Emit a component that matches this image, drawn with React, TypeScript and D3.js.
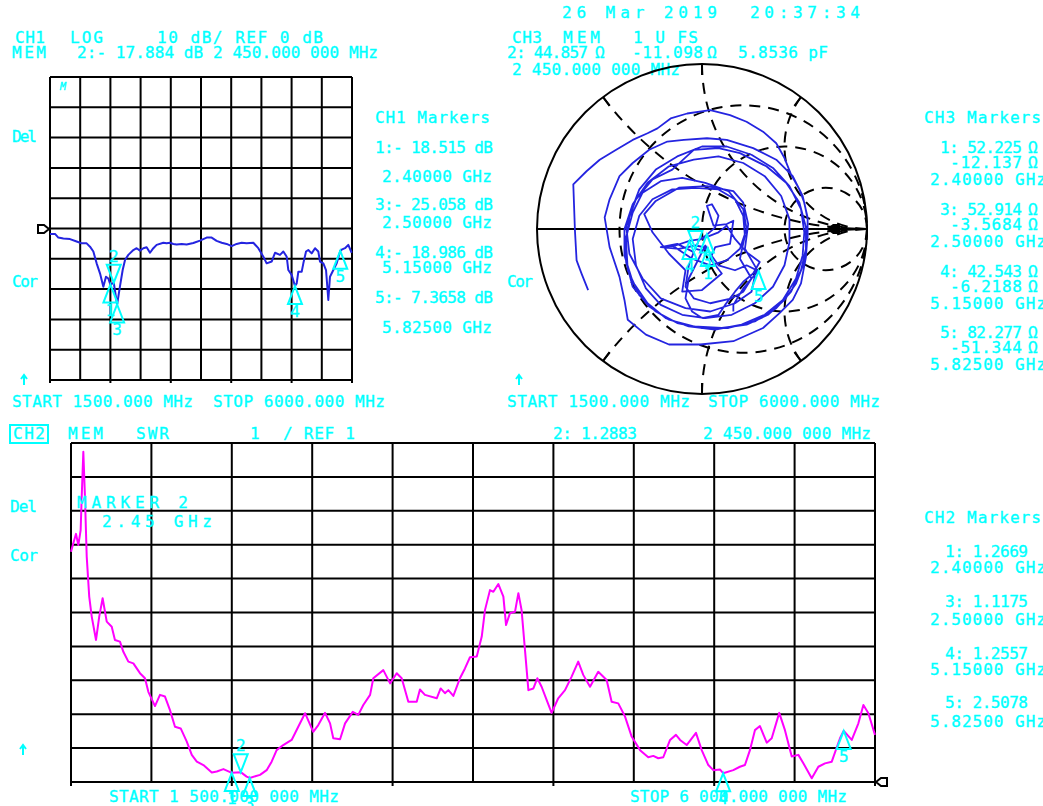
import React from "react";
import * as d3 from "d3";

const W = 1043, H = 806;
const CYAN = "#00FFFF";
const BLUE = "#2424E0";
const MAGENTA = "#FF00FF";
const FONT = "'DejaVu Sans Mono', monospace";

// sweep
const startMHz = 1500, stopMHz = 6000;

// CH1 LOG MAG trace: [MHz, dB]
const ch1Trace: [number, number][] = [
  [1500,-1.8],[1575,-1.8],[1624,-3.0],[1699,-3.3],[1798,-3.5],[1897,-4.3],[1972,-4.9],[2046,-4.9],
  [2096,-6.0],[2146,-7.6],[2195,-11.5],[2245,-14.8],[2295,-19.2],[2334,-15.9],[2369,-16.5],[2400,-18.5],
  [2450,-17.9],[2500,-25.1],[2543,-19.0],[2583,-13.7],[2618,-10.4],[2667,-8.7],[2742,-7.1],[2791,-6.5],
  [2841,-7.3],[2891,-6.5],[2940,-6.2],[2990,-8.0],[3040,-6.5],[3089,-5.4],[3189,-4.7],[3238,-4.9],
  [3288,-4.7],[3338,-5.1],[3387,-5.3],[3462,-5.1],[3536,-5.3],[3636,-4.8],[3735,-4.0],[3834,-3.0],
  [3909,-3.0],[3983,-4.1],[4058,-4.7],[4132,-5.1],[4207,-5.8],[4281,-5.1],[4356,-4.7],[4430,-4.9],
  [4530,-4.7],[4604,-6.5],[4679,-9.3],[4728,-11.5],[4803,-10.9],[4853,-8.0],[4927,-8.7],[4977,-7.6],
  [5027,-9.3],[5051,-13.7],[5101,-15.3],[5150,-19.0],[5176,-18.1],[5200,-14.3],[5250,-14.3],[5275,-11.5],
  [5315,-7.6],[5349,-7.1],[5399,-8.2],[5449,-6.5],[5498,-7.6],[5523,-10.9],[5573,-11.5],[5613,-13.7],
  [5647,-23.6],[5672,-15.9],[5722,-13.7],[5772,-11.5],[5825,-7.4],[5846,-7.0],[5896,-6.5],[5945,-5.4],
  [5995,-8.0]
];

// CH2 SWR trace: [MHz, SWR]
const ch2Trace: [number, number][] = [
  [1500,7.79],[1513,8.04],[1528,8.32],[1541,7.99],[1554,8.43],[1560,9.42],[1569,10.74],[1578,9.42],
  [1588,7.65],[1602,6.47],[1616,5.88],[1640,5.19],[1658,5.88],[1677,6.42],[1700,5.73],[1728,5.58],
  [1746,5.19],[1774,5.14],[1793,4.84],[1821,4.55],[1849,4.50],[1886,4.21],[1914,4.06],[1933,3.66],
  [1970,3.24],[1998,3.57],[2026,3.52],[2054,3.12],[2082,2.63],[2114,2.58],[2148,2.19],[2176,1.80],
  [2204,1.60],[2241,1.50],[2288,1.28],[2316,1.31],[2353,1.38],[2400,1.27],[2450,1.29],[2483,1.16],
  [2500,1.12],[2558,1.21],[2595,1.35],[2623,1.60],[2651,1.94],[2688,2.09],[2735,2.24],[2772,2.63],
  [2810,3.03],[2856,2.48],[2884,2.68],[2922,3.04],[2950,2.73],[2968,2.29],[3006,2.26],[3034,2.73],
  [3077,3.07],[3108,2.98],[3136,3.27],[3174,3.57],[3192,4.06],[3248,4.30],[3286,3.91],[3323,4.21],
  [3351,4.06],[3388,3.37],[3435,3.37],[3453,3.73],[3481,3.57],[3547,3.47],[3569,3.76],[3593,3.62],
  [3612,3.71],[3640,3.54],[3677,4.06],[3705,4.35],[3733,4.68],[3771,4.70],[3799,5.29],[3817,6.07],
  [3845,6.66],[3864,6.61],[3892,6.84],[3920,6.47],[3935,5.63],[3957,5.98],[3985,6.02],[4004,6.57],
  [4022,6.07],[4041,4.89],[4060,3.71],[4088,3.76],[4110,4.06],[4134,3.81],[4162,3.42],[4190,3.04],
  [4227,3.47],[4265,3.71],[4302,4.11],[4339,4.55],[4367,4.16],[4405,3.81],[4451,4.25],[4498,4.01],
  [4526,3.37],[4563,3.32],[4601,2.93],[4638,2.34],[4685,1.94],[4731,1.73],[4759,1.77],[4787,1.70],
  [4815,1.73],[4853,2.24],[4886,2.39],[4909,2.24],[4946,2.09],[4998,2.45],[5030,1.94],[5067,1.50],
  [5095,1.35],[5132,1.37],[5150,1.26],[5207,1.35],[5244,1.45],[5272,1.50],[5300,1.94],[5328,2.53],
  [5356,2.65],[5394,2.16],[5422,2.29],[5464,3.04],[5496,2.53],[5534,1.75],[5571,1.80],[5599,1.55],
  [5646,1.11],[5683,1.45],[5720,1.55],[5758,1.60],[5804,2.29],[5825,2.51],[5870,2.24],[5907,2.73],
  [5935,3.27],[5963,3.03],[6000,2.39]
];

// CH3 Smith trace: reflection coefficient [re, im]
const smithGamma: [number, number][] = [
  [-0.69,-0.37],[-0.73,-0.27],[-0.76,-0.19],[-0.77,-0.01],[-0.78,0.27],[-0.70,0.35],[-0.62,0.42],[-0.52,0.48],
  [-0.42,0.54],[-0.33,0.58],[-0.27,0.61],[-0.19,0.67],[-0.09,0.70],[0.05,0.72],[0.17,0.69],[0.27,0.65],
  [0.37,0.59],[0.45,0.52],[0.50,0.43],[0.54,0.33],[0.59,0.24],[0.62,0.16],[0.64,0.06],[0.64,-0.03],
  [0.63,-0.17],[0.60,-0.33],[0.55,-0.43],[0.47,-0.51],[0.37,-0.60],[0.19,-0.68],[-0.01,-0.70],[-0.20,-0.70],
  [-0.34,-0.64],[-0.45,-0.55],[-0.47,-0.43],[-0.50,-0.29],[-0.56,-0.11],[-0.59,0.07],[-0.56,0.18],[-0.50,0.32],
  [-0.42,0.40],[-0.32,0.48],[-0.21,0.53],[-0.11,0.54],[0.03,0.55],[0.15,0.54],[0.31,0.49],[0.45,0.42],
  [0.55,0.32],[0.61,0.20],[0.64,0.07],[0.64,-0.05],[0.62,-0.20],[0.57,-0.33],[0.50,-0.43],[0.40,-0.52],
  [0.27,-0.58],[0.12,-0.60],[-0.05,-0.59],[-0.20,-0.55],[-0.32,-0.47],[-0.42,-0.35],[-0.46,-0.20],[-0.46,-0.05],
  [-0.42,0.10],[-0.36,0.22],
  [-0.25,0.29],[-0.12,0.31],[0.02,0.28],[0.16,0.23],[0.25,0.12],[0.27,0.0],[0.23,-0.12],[0.15,-0.19],
  [0.05,-0.22],[-0.06,-0.18],[-0.18,-0.10],[-0.25,-0.11],[-0.14,-0.12],[-0.04,-0.10],[0.035,-0.115],[0.0,-0.13],
  [-0.04,-0.12],[-0.02,-0.07],[0.03,-0.034],
  [0.08,0.01],[0.10,0.08],[0.06,0.15],[0.03,0.14],[0.07,0.02],[0.15,0.03],[0.19,0.05],[0.17,-0.09],
  [0.08,-0.11],[0.05,-0.18],[0.12,-0.27],[0.0,-0.37],[-0.12,-0.38],[-0.10,-0.25],[-0.20,-0.15],[-0.30,-0.02],
  [-0.35,0.09],[-0.28,0.17],[-0.14,0.25],[0.03,0.26],[0.19,0.23],[0.25,0.16],[0.28,0.03],[0.26,-0.12],
  [0.33,-0.24],[0.30,-0.38],[0.20,-0.45],[0.05,-0.50],[-0.10,-0.48],[-0.25,-0.42],[-0.36,-0.30],[-0.44,-0.15],
  [-0.46,0.02],[-0.40,0.18],[-0.30,0.30],[-0.18,0.36],
  [-0.05,0.48],[0.10,0.49],[0.23,0.46],[0.39,0.38],[0.51,0.28],[0.59,0.16],[0.63,0.01],[0.63,-0.12],
  [0.60,-0.25],[0.54,-0.38],[0.45,-0.48],[0.32,-0.56],[0.16,-0.60],[0.0,-0.60],[-0.15,-0.57],[-0.28,-0.50],
  [-0.38,-0.40],[-0.45,-0.25],[-0.46,-0.08],[-0.44,0.08],[-0.38,0.24],[-0.28,0.36],[-0.15,0.44],
  [0.0,0.50],[0.15,0.50],[0.30,0.45],[0.43,0.37],[0.53,0.26],[0.60,0.12],[0.62,-0.02],[0.61,-0.16],
  [0.57,-0.30],[0.49,-0.43],[0.38,-0.52],[0.24,-0.58],[0.08,-0.61],[-0.08,-0.59],[-0.22,-0.54],[-0.33,-0.45],
  [-0.42,-0.32],[-0.47,-0.16],[-0.47,0.0],[-0.42,0.15],[-0.33,0.28],[-0.20,0.38],
  [-0.05,0.42],[0.10,0.44],[0.25,0.40],[0.38,0.32],[0.48,0.20],[0.53,0.06],[0.53,-0.08],[0.50,-0.22],
  [0.43,-0.35],[0.32,-0.45],[0.18,-0.52],[0.02,-0.54],[-0.12,-0.52],[-0.25,-0.46],[-0.34,-0.36],[-0.40,-0.22],
  [-0.42,-0.06],
  [-0.38,0.08],[-0.30,0.18],[-0.18,0.24],[-0.04,0.25],[0.10,0.24],[0.20,0.18],[0.25,0.08],[0.26,-0.04],
  [0.23,-0.18],[0.30,-0.30],[0.25,-0.38],[0.18,-0.42],[0.05,-0.45],[-0.05,-0.42],[-0.10,-0.35],[-0.08,-0.22],
  [-0.05,-0.14],
  [-0.15,-0.09],[-0.25,-0.11],[-0.16,-0.10],[-0.076,-0.072],[0.0,-0.06],[0.10,-0.02],[0.15,0.02],
  [0.20,-0.06],[0.27,-0.14],[0.35,-0.20],[0.31,-0.27],[0.25,-0.32],[0.20,-0.38],[0.14,-0.46],[0.10,-0.52],
  [0.0,-0.54],[-0.06,-0.50],[-0.10,-0.42],
  [-0.08,-0.30],[-0.03,-0.20],[0.02,-0.10],[0.05,-0.15],[0.10,-0.22],
  [0.20,-0.25],[0.27,-0.22],[0.343,-0.255],[0.30,-0.30],[0.25,-0.36],[0.19,-0.46],[0.19,-0.50]
];

// markers
const markerIds = ["1", "2", "3", "4", "5"];
const markerFreqMHz = [2400, 2450, 2500, 5150, 5825];
const ch1MarkerDb = [-18.515, -17.884, -25.058, -18.986, -7.3658];
const ch2MarkerSwr = [1.2669, 1.2883, 1.1175, 1.2557, 2.5078];
const ch3MarkerR = [52.225, 44.857, 52.914, 42.543, 82.277];
const ch3MarkerX = [-12.137, -11.098, -3.5684, -6.2188, -51.344];
const markerFreqLabels = ["2.40000 GHz", "2.45000 GHz", "2.50000 GHz", "5.15000 GHz", "5.82500 GHz"];
const activeMarker = "2";

// graticules
const ch1GridDb = d3.range(-50, 51, 10);
const swrGrid = d3.range(1, 11.01, 1);
const freqGrid = d3.range(startMHz, stopMHz + 1, 450);
const smithR = [1 / 3, 1, 3];
const smithX = [0.5, 1, 2];

// scales
const x1 = d3.scaleLinear().domain([startMHz, stopMHz]).range([50, 352]);
const y1 = d3.scaleLinear().domain([-50, 50]).range([380, 77]);
const x2 = d3.scaleLinear().domain([startMHz, stopMHz]).range([71, 875]);
const y2 = d3.scaleLinear().domain([1, 11]).range([782, 443]);
const sx = d3.scaleLinear().domain([-1, 1]).range([537, 867]);
const sy = d3.scaleLinear().domain([-1, 1]).range([394, 64]);
const SR = (sx(1) - sx(-1)) / 2;

const gammaOf = (r: number, x: number): [number, number] => {
  const nr = r - 50, ni = x, dr = r + 50, di = x;
  const den = dr * dr + di * di;
  return [(nr * dr + ni * di) / den, (ni * dr - nr * di) / den];
};

function Txt({ x, y, w, children, size = 16, fill = CYAN, italic = false }: any) {
  return (
    <text x={x} y={y} textLength={w} lengthAdjust="spacing" fontFamily={FONT}
      fontSize={size} fill={fill} stroke={fill} strokeWidth={0.35}
      fontStyle={italic ? "italic" : "normal"}>{children}</text>
  );
}

function Tri({ x, y, id, down }: { x: number; y: number; id: string; down: boolean }) {
  const h = 18, hw = 7;
  const d = down
    ? `M${x},${y} L${x - hw},${y - h} L${x + hw},${y - h} Z`
    : `M${x},${y} L${x - hw},${y + h} L${x + hw},${y + h} Z`;
  return (
    <g>
      <path d={d} fill="none" stroke={CYAN} strokeWidth={2} strokeLinejoin="miter" />
      <text x={x} y={down ? y - h - 3 : y + h + 13} textAnchor="middle" fontFamily={FONT}
        fontSize={16} fill={CYAN} stroke={CYAN} strokeWidth={0.35}>{id}</text>
    </g>
  );
}

function Arrow({ x, y }: { x: number; y: number }) {
  return (
    <path d={`M${x},${y + 10} L${x},${y} M${x - 3},${y + 4} L${x},${y} L${x + 3},${y + 4}`}
      stroke={CYAN} strokeWidth={2} fill="none" />
  );
}

export default function App() {
  const line1 = d3.line<[number, number]>().x(d => x1(d[0])).y(d => y1(d[1]));
  const line2 = d3.line<[number, number]>().x(d => x2(d[0])).y(d => y2(d[1]));
  const lineS = d3.line<[number, number]>().x(d => sx(d[0])).y(d => sy(d[1]));

  const arcs: string[] = [];
  const ticks: string[] = [];
  smithX.forEach(k => {
    [1, -1].forEach(s => {
      const pr = (k * k - 1) / (k * k + 1), pi = (s * 2 * k) / (k * k + 1);
      arcs.push(`M${sx(pr)},${sy(pi)} A${SR / k},${SR / k} 0 0 ${s > 0 ? 0 : 1} ${sx(1)},${sy(0)}`);
      const f = 1 - 11 / SR;
      ticks.push(`M${sx(pr)},${sy(pi)} L${sx(pr * f)},${sy(pi * f)}`);
    });
  });

  const tableIdx = [0, 2, 3, 4];

  return (
    <svg width={W} height={H} style={{ position: "absolute", left: 0, top: 0, background: "#fff" }}>
      <rect x={0} y={0} width={W} height={H} fill="#fff" />

      {/* ---------------- headers ---------------- */}
      <Txt x={15} y={43} w={30}>CH1</Txt>
      <Txt x={70} y={43} w={33}>LOG</Txt>
      <Txt x={157} y={43} w={166}>10 dB/ REF 0 dB</Txt>
      <Txt x={12} y={58} w={34}>MEM</Txt>
      <Txt x={77} y={58} w={301}>2:- 17.884 dB 2 450.000 000 MHz</Txt>

      <Txt x={562} y={18} w={155}>26  Mar  2019</Txt>
      <Txt x={750} y={18} w={110}>20:37:34</Txt>
      <Txt x={512} y={43} w={30}>CH3</Txt>
      <Txt x={563} y={43} w={37}>MEM</Txt>
      <Txt x={633} y={43} w={65}>1  U  FS</Txt>
      <Txt x={507} y={58} w={81}>2: 44.857</Txt>
      <Txt x={595} y={58} w={11}>Ω</Txt>
      <Txt x={632} y={58} w={71}>-11.098</Txt>
      <Txt x={707} y={58} w={11}>Ω</Txt>
      <Txt x={738} y={58} w={90}>5.8536 pF</Txt>
      <Txt x={512} y={75} w={168}>2 450.000 000 MHz</Txt>

      {/* ---------------- CH1 ---------------- */}
      <g stroke="#000" strokeWidth={2} fill="none">
        {freqGrid.map((f, i) => (
          <line key={"v" + i} x1={x1(f)} x2={x1(f)} y1={y1(50)} y2={y1(-50) + (i % 2 === 0 ? 3 : 0)} />
        ))}
        {ch1GridDb.map((v, i) => (
          <line key={"h" + i} x1={x1(startMHz)} x2={x1(stopMHz)} y1={y1(v)} y2={y1(v)} />
        ))}
      </g>
      <path d={`M38,225 L44,225 L49,229 L44,233 L38,233 Z`} fill="#fff" stroke="#000" strokeWidth={2} />
      <Txt x={60} y={90} w={10} size={10} italic>M</Txt>
      <path d={line1(ch1Trace) || ""} fill="none" stroke={BLUE} strokeWidth={2} strokeLinejoin="round" />
      {markerIds.map((id, i) => (
        <Tri key={id} id={id} x={x1(markerFreqMHz[i])} y={y1(ch1MarkerDb[i])} down={id === activeMarker} />
      ))}
      <Txt x={12} y={142} w={25}>Del</Txt>
      <Txt x={12} y={287} w={26}>Cor</Txt>
      <Arrow x={24} y={375} />
      <Txt x={12} y={407} w={181}>START 1500.000 MHz</Txt>
      <Txt x={213} y={407} w={172}>STOP 6000.000 MHz</Txt>

      {/* CH1 markers table */}
      <Txt x={375} y={123} w={115}>CH1 Markers</Txt>
      {tableIdx.map((i, k) => {
        const b1 = [153, 210, 258, 303][k];
        const b2 = [182, 228, 273, 333][k];
        const v = ch1MarkerDb[i];
        const s = Math.abs(v) >= 10 ? Math.abs(v).toFixed(3) : Math.abs(v).toFixed(4);
        return (
          <g key={"c1" + i}>
            <Txt x={375} y={b1} w={118}>{`${markerIds[i]}:- ${s} dB`}</Txt>
            <Txt x={382} y={b2} w={110}>{markerFreqLabels[i]}</Txt>
          </g>
        );
      })}

      {/* ---------------- CH3 Smith ---------------- */}
      <g fill="none" stroke="#000" strokeWidth={2}>
        <circle cx={sx(0)} cy={sy(0)} r={SR} />
        <line x1={sx(-1)} x2={sx(1)} y1={sy(0)} y2={sy(0)} />
        {ticks.map((d, i) => <path key={"t" + i} d={d} />)}
      </g>
      <g fill="none" stroke="#000" strokeWidth={2} strokeDasharray="11 8">
        {smithR.map((r, i) => (
          <circle key={"r" + i} cx={sx(r / (1 + r))} cy={sy(0)} r={SR / (1 + r)} />
        ))}
        {arcs.map((d, i) => <path key={"a" + i} d={d} />)}
      </g>
      <path d={`M826,229 L833,224 L840,224 L840,234 L833,234 Z`} fill="#000" />
      <path d={lineS(smithGamma) || ""} fill="none" stroke={BLUE} strokeWidth={1.8} strokeLinejoin="round" />
      {markerIds.map((id, i) => {
        const g = gammaOf(ch3MarkerR[i], ch3MarkerX[i]);
        return <Tri key={"s" + id} id={id} x={sx(g[0])} y={sy(g[1])} down={id === activeMarker} />;
      })}
      <Txt x={507} y={287} w={26}>Cor</Txt>
      <Arrow x={519} y={375} />
      <Txt x={507} y={407} w={183}>START 1500.000 MHz</Txt>
      <Txt x={708} y={407} w={172}>STOP 6000.000 MHz</Txt>

      {/* CH3 markers table */}
      <Txt x={924} y={123} w={117}>CH3 Markers</Txt>
      {tableIdx.map((i, k) => {
        const base = [153, 215, 277, 338][k];
        return (
          <g key={"c3" + i}>
            <Txt x={940} y={base} w={82}>{`${markerIds[i]}: ${ch3MarkerR[i].toFixed(3)}`}</Txt>
            <Txt x={1028} y={base} w={11}>Ω</Txt>
            <Txt x={950} y={base + 15} w={72}>{String(ch3MarkerX[i])}</Txt>
            <Txt x={1028} y={base + 15} w={11}>Ω</Txt>
            <Txt x={930} y={base + 32} w={116}>{markerFreqLabels[i]}</Txt>
          </g>
        );
      })}

      {/* ---------------- CH2 ---------------- */}
      <rect x={10} y={425} width={38} height={18} fill="none" stroke={CYAN} strokeWidth={2} />
      <Txt x={13} y={439} w={32}>CH2</Txt>
      <Txt x={68} y={439} w={35}>MEM</Txt>
      <Txt x={136} y={439} w={33}>SWR</Txt>
      <Txt x={250} y={439} w={8}>1</Txt>
      <Txt x={283} y={439} w={72}>/ REF 1</Txt>
      <Txt x={553} y={439} w={84}>2: 1.2883</Txt>
      <Txt x={703} y={439} w={168}>2 450.000 000 MHz</Txt>

      <g stroke="#000" strokeWidth={2} fill="none">
        {freqGrid.map((f, i) => (
          <line key={"v2" + i} x1={x2(f)} x2={x2(f)} y1={y2(11)} y2={y2(1) + (i % 2 === 0 ? 4 : 0)} />
        ))}
        {swrGrid.map((v, i) => (
          <line key={"h2" + i} x1={x2(startMHz)} x2={x2(stopMHz)} y1={y2(v)} y2={y2(v)} />
        ))}
      </g>
      <path d={`M876,782 L881,778 L887,778 L887,786 L881,786 Z`} fill="#fff" stroke="#000" strokeWidth={2} />
      <path d={line2(ch2Trace) || ""} fill="none" stroke={MAGENTA} strokeWidth={2} strokeLinejoin="round" />
      {markerIds.map((id, i) => (
        <Tri key={"m2" + id} id={id} x={x2(markerFreqMHz[i])} y={y2(ch2MarkerSwr[i])} down={id === activeMarker} />
      ))}
      <Txt x={77} y={508} w={111}>MARKER 2</Txt>
      <Txt x={102} y={527} w={110}>2.45 GHz</Txt>
      <Txt x={10} y={512} w={27}>Del</Txt>
      <Txt x={10} y={561} w={28}>Cor</Txt>
      <Arrow x={23} y={745} />
      <Txt x={109} y={802} w={230}>START 1 500.000 000 MHz</Txt>
      <Txt x={630} y={802} w={217}>STOP 6 000.000 000 MHz</Txt>

      {/* CH2 markers table */}
      <Txt x={924} y={523} w={117}>CH2 Markers</Txt>
      {tableIdx.map((i, k) => {
        const b1 = [557, 607, 659, 708][k];
        const b2 = [573, 625, 675, 727][k];
        return (
          <g key={"c2" + i}>
            <Txt x={945} y={b1} w={83}>{`${markerIds[i]}: ${ch2MarkerSwr[i].toFixed(4)}`}</Txt>
            <Txt x={930} y={b2} w={116}>{markerFreqLabels[i]}</Txt>
          </g>
        );
      })}
    </svg>
  );
}
